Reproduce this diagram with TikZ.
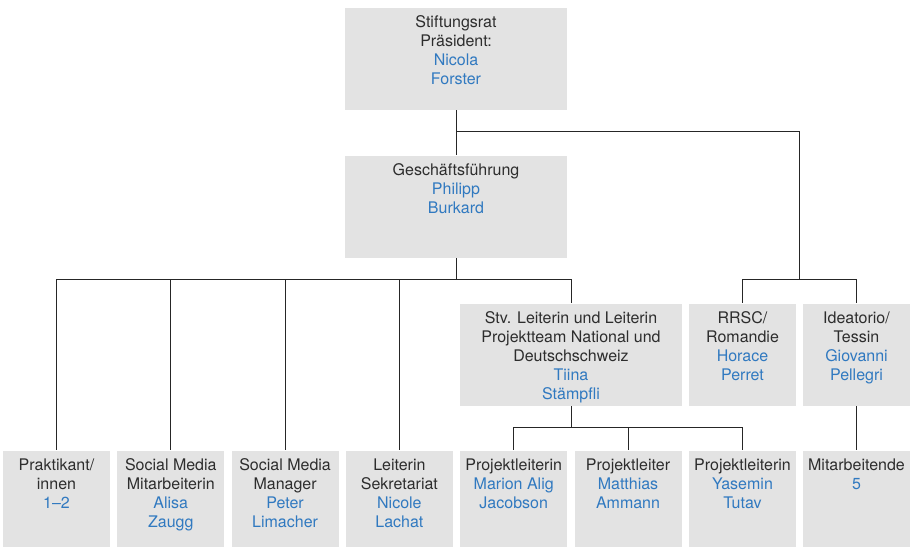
\documentclass[tikz,border=0pt]{standalone}
\usepackage{fontspec}
\setmainfont{TeX Gyre Heros}
\definecolor{boxgray}{RGB}{227,227,227}
\definecolor{txtgray}{RGB}{45,45,45}
\definecolor{nameblue}{RGB}{48,121,192}
\newcommand\pname[1]{\textcolor{nameblue}{#1}}
\begin{document}
\begin{tikzpicture}[x=1pt,y=-1pt,line width=1pt,draw=black!85,
	box/.style={fill=boxgray,text=txtgray,anchor=north,inner xsep=0pt,inner ysep=8pt,font=\fontsize{16}{19}\selectfont},
	cell/.style 2 args={box,execute at begin node={\begin{minipage}[t][#2][t]{#1}\centering},execute at end node={\end{minipage}}},
	wide/.style={cell={222pt}{86pt}},
	small/.style={cell={107pt}{86pt}},
	low/.style={cell={107pt}{80pt}}]
	\useasboundingbox (0,0) rectangle (915,546);
	% leitung
	\node[wide] (rat) at (456,7) {Stiftungsrat\\Präsident:\\\pname{Nicola}\\\pname{Forster}};
	\node[wide] (gf) at (456,155) {Geschäftsführung\\\pname{Philipp}\\\pname{Burkard}};
	% zweite ebene
	\node[wide] (stv) at (571,303) {Stv. Leiterin und Leiterin\\Projektteam National und\\Deutschschweiz\\\pname{Tiina}\\\pname{Stämpfli}};
	\node[small] (rrsc) at (742.5,303) {RRSC/\\Romandie\\\pname{Horace}\\\pname{Perret}};
	\node[small] (ideo) at (856.5,303) {Ideatorio/\\Tessin\\\pname{Giovanni}\\\pname{Pellegri}};
	% unterste ebene
	\node[low] (prak) at (56.5,450) {Praktikant/\\innen\\\pname{1–2}};
	\node[low] (smm) at (170.8,450) {Social Media\\Mitarbeiterin\\\pname{Alisa}\\\pname{Zaugg}};
	\node[low] (smgr) at (285.1,450) {Social Media\\Manager\\\pname{Peter}\\\pname{Limacher}};
	\node[low] (sek) at (399.4,450) {Leiterin\\Sekretariat\\\pname{Nicole}\\\pname{Lachat}};
	\node[low] (pl1) at (513.7,450) {Projektleiterin\\\pname{Marion Alig}\\\pname{Jacobson}};
	\node[low] (pl2) at (628,450) {Projektleiter\\\pname{Matthias}\\\pname{Ammann}};
	\node[low] (pl3) at (742.5,450) {Projektleiterin\\\pname{Yasemin}\\\pname{Tutav}};
	\node[low] (mit) at (856.5,450) {Mitarbeitende\\\pname{5}};
	% verbindungen
	\coordinate (jrat) at (456,131);
	\coordinate (jreg) at (799.5,279);
	\coordinate (jgf) at (456,279);
	\coordinate (jstv) at (571,427);
	\draw (rat.south) -- (gf.north);
	\draw (rat.south) -- (jrat) -| (jreg);
	\foreach \n in {rrsc,ideo} \draw (jreg) -| (\n.north);
	\foreach \n in {prak,smm,smgr,sek,stv} \draw (gf.south) -- (jgf) -| (\n.north);
	\foreach \n in {pl1,pl2,pl3} \draw (stv.south) -- (jstv) -| (\n.north);
	\draw (ideo.south) -- (mit.north);
\end{tikzpicture}
\end{document}
